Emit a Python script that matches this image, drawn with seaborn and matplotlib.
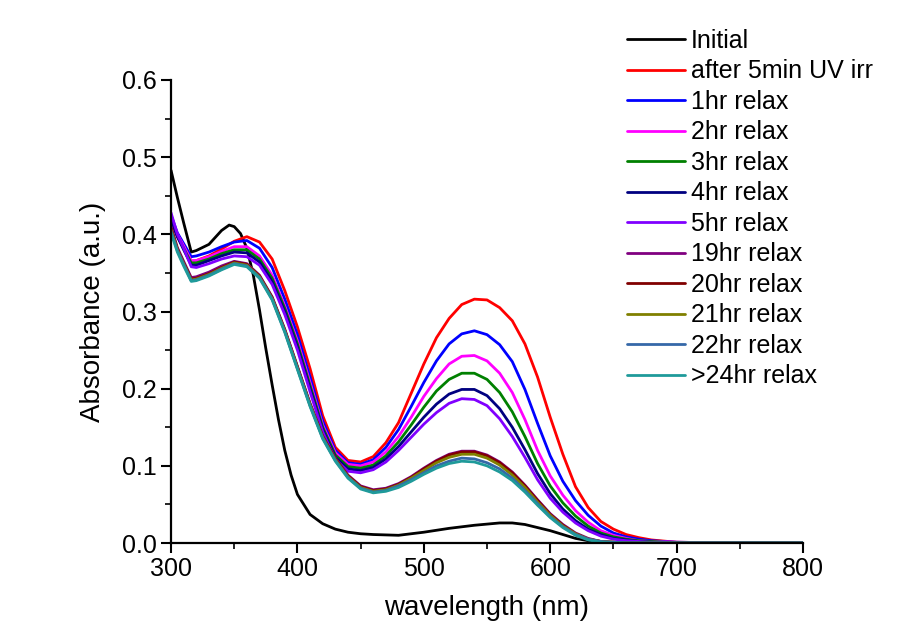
import seaborn as sns
import matplotlib.pyplot as plt
from matplotlib.ticker import MultipleLocator

# wavelength grids (nm)
wl_initial = [300, 305, 310, 316, 320, 330, 340, 346, 350, 355, 360, 365, 370, 375, 380, 385, 390, 395, 400, 410,
              420, 430, 440, 450, 460, 480, 500, 520, 540, 560, 570, 580, 590, 600, 610, 620, 630, 640, 660, 700,
              750, 800]
wavelength = [300, 305, 310, 316, 320, 330, 340, 350, 360, 370, 380, 390, 400, 410, 420, 430, 440, 450,
              460, 470, 480, 490, 500, 510, 520, 530, 540, 550, 560, 570, 580, 590, 600, 610, 620, 630, 640, 650,
              660, 670, 680, 700, 750, 800]

# absorbance
initial = [0.483, 0.448, 0.415, 0.377, 0.379, 0.387, 0.405, 0.412, 0.410, 0.401, 0.382, 0.348, 0.302, 0.252,
           0.205, 0.160, 0.120, 0.088, 0.063, 0.037, 0.025, 0.018, 0.014, 0.012, 0.011, 0.010, 0.014, 0.019,
           0.023, 0.026, 0.026, 0.024, 0.020, 0.016, 0.011, 0.006, 0.003, 0.001, 0.0, 0.0, 0.0, 0.0]
uv_5min = [0.420, 0.397, 0.383, 0.365, 0.366, 0.372, 0.381, 0.391, 0.397, 0.390, 0.368, 0.327, 0.280, 0.226,
           0.165, 0.124, 0.107, 0.105, 0.112, 0.130, 0.156, 0.194, 0.232, 0.266, 0.291, 0.309, 0.316, 0.315,
           0.305, 0.288, 0.258, 0.215, 0.163, 0.115, 0.073, 0.046, 0.028, 0.018, 0.011, 0.007, 0.004, 0.001,
           0.0, 0.0]
relax_1h = [0.425, 0.402, 0.388, 0.371, 0.372, 0.377, 0.384, 0.390, 0.392, 0.382, 0.357, 0.316, 0.270, 0.215,
            0.158, 0.120, 0.104, 0.102, 0.108, 0.124, 0.147, 0.177, 0.208, 0.236, 0.258, 0.271, 0.275, 0.270,
            0.257, 0.235, 0.199, 0.155, 0.113, 0.080, 0.055, 0.036, 0.022, 0.013, 0.008, 0.005, 0.003, 0.001,
            0.0, 0.0]
relax_2h = [0.422, 0.400, 0.385, 0.366, 0.366, 0.371, 0.378, 0.384, 0.384, 0.372, 0.347, 0.307, 0.262, 0.208,
            0.153, 0.117, 0.102, 0.100, 0.105, 0.118, 0.138, 0.163, 0.190, 0.213, 0.232, 0.242, 0.243, 0.236,
            0.220, 0.195, 0.160, 0.120, 0.087, 0.062, 0.042, 0.027, 0.016, 0.010, 0.006, 0.003, 0.002, 0.001,
            0.0, 0.0]
relax_3h = [0.420, 0.398, 0.382, 0.363, 0.363, 0.368, 0.375, 0.380, 0.380, 0.368, 0.343, 0.304, 0.258, 0.204,
            0.150, 0.114, 0.099, 0.097, 0.101, 0.113, 0.131, 0.153, 0.176, 0.197, 0.212, 0.220, 0.220, 0.212,
            0.195, 0.170, 0.138, 0.103, 0.074, 0.052, 0.035, 0.022, 0.013, 0.008, 0.005, 0.003, 0.002, 0.0,
            0.0, 0.0]
relax_4h = [0.418, 0.397, 0.380, 0.360, 0.360, 0.366, 0.372, 0.377, 0.376, 0.364, 0.339, 0.300, 0.254, 0.200,
            0.147, 0.111, 0.096, 0.094, 0.098, 0.109, 0.125, 0.144, 0.163, 0.180, 0.193, 0.199, 0.199, 0.191,
            0.174, 0.150, 0.121, 0.090, 0.064, 0.044, 0.029, 0.018, 0.011, 0.006, 0.004, 0.002, 0.001, 0.0,
            0.0, 0.0]
relax_5h = [0.428, 0.400, 0.382, 0.358, 0.357, 0.362, 0.368, 0.372, 0.371, 0.360, 0.335, 0.296, 0.250, 0.196,
            0.144, 0.108, 0.093, 0.091, 0.095, 0.105, 0.120, 0.137, 0.154, 0.169, 0.181, 0.187, 0.186, 0.178,
            0.161, 0.138, 0.111, 0.082, 0.058, 0.040, 0.026, 0.016, 0.009, 0.005, 0.003, 0.002, 0.001, 0.0,
            0.0, 0.0]
relax_19h = [0.410, 0.383, 0.365, 0.344, 0.345, 0.351, 0.359, 0.365, 0.362, 0.347, 0.319, 0.277, 0.229, 0.181,
             0.139, 0.110, 0.088, 0.074, 0.069, 0.071, 0.077, 0.086, 0.097, 0.107, 0.115, 0.119, 0.119, 0.114,
             0.105, 0.092, 0.075, 0.056, 0.038, 0.024, 0.013, 0.006, 0.002, 0.001, 0.0, 0.0, 0.0, 0.0,
             0.0, 0.0]
relax_20h = [0.408, 0.381, 0.363, 0.342, 0.343, 0.349, 0.357, 0.364, 0.361, 0.346, 0.318, 0.276, 0.228, 0.180,
             0.138, 0.109, 0.087, 0.073, 0.068, 0.070, 0.076, 0.085, 0.096, 0.106, 0.114, 0.118, 0.118, 0.113,
             0.104, 0.091, 0.074, 0.055, 0.037, 0.023, 0.012, 0.005, 0.002, 0.001, 0.0, 0.0, 0.0, 0.0,
             0.0, 0.0]
relax_21h = [0.406, 0.380, 0.362, 0.341, 0.342, 0.348, 0.356, 0.363, 0.360, 0.345, 0.317, 0.275, 0.227, 0.179,
             0.137, 0.108, 0.086, 0.072, 0.067, 0.069, 0.075, 0.084, 0.094, 0.104, 0.111, 0.115, 0.115, 0.110,
             0.101, 0.088, 0.072, 0.053, 0.036, 0.022, 0.012, 0.005, 0.002, 0.001, 0.0, 0.0, 0.0, 0.0,
             0.0, 0.0]
relax_22h = [0.404, 0.379, 0.361, 0.340, 0.341, 0.347, 0.355, 0.362, 0.359, 0.344, 0.316, 0.274, 0.226, 0.178,
             0.136, 0.107, 0.085, 0.071, 0.066, 0.068, 0.074, 0.082, 0.091, 0.100, 0.106, 0.110, 0.109, 0.104,
             0.096, 0.084, 0.068, 0.051, 0.034, 0.021, 0.011, 0.005, 0.002, 0.001, 0.0, 0.0, 0.0, 0.0,
             0.0, 0.0]
relax_24h = [0.402, 0.377, 0.359, 0.339, 0.340, 0.346, 0.354, 0.361, 0.358, 0.343, 0.315, 0.273, 0.225, 0.177,
             0.135, 0.106, 0.084, 0.070, 0.065, 0.067, 0.072, 0.080, 0.089, 0.097, 0.103, 0.106, 0.105, 0.100,
             0.092, 0.081, 0.066, 0.049, 0.033, 0.020, 0.010, 0.004, 0.001, 0.0, 0.0, 0.0, 0.0, 0.0,
             0.0, 0.0]

labels = ["Initial", "after 5min UV irr", "1hr relax", "2hr relax", "3hr relax", "4hr relax", "5hr relax",
          "19hr relax", "20hr relax", "21hr relax", "22hr relax", ">24hr relax"]
series = [initial, uv_5min, relax_1h, relax_2h, relax_3h, relax_4h, relax_5h,
          relax_19h, relax_20h, relax_21h, relax_22h, relax_24h]
colors = ["#000000", "#ff0000", "#0000ff", "#ff00ff", "#008000", "#000080", "#8000ff",
          "#800080", "#800000", "#808000", "#3568a8", "#1f9a9a"]

sns.set_style("ticks", {"axes.edgecolor": "black", "xtick.color": "black", "ytick.color": "black",
                        "text.color": "black", "axes.labelcolor": "black"})
plt.rcParams["font.family"] = ["Liberation Sans", "DejaVu Sans"]

fig = plt.figure(figsize=(9.17, 6.43), dpi=100)
ax = fig.add_axes([0.1865, 0.1555, 0.6892, 0.7201])

for name, vals, color in zip(labels, series, colors):
    x = wl_initial if name == "Initial" else wavelength
    sns.lineplot(x=x, y=vals, color=color, linewidth=2, label=name, ax=ax, estimator=None, sort=False)

ax.set_xlim(300, 800)
ax.set_ylim(0, 0.6)
ax.xaxis.set_major_locator(MultipleLocator(100))
ax.xaxis.set_minor_locator(MultipleLocator(50))
ax.yaxis.set_major_locator(MultipleLocator(0.1))
ax.yaxis.set_minor_locator(MultipleLocator(0.05))
ax.tick_params(which="major", direction="out", length=7, width=1.5, labelsize=18, pad=3)
ax.tick_params(which="minor", direction="out", length=4, width=1.2)
sns.despine(ax=ax)
for s in ["left", "bottom"]:
    ax.spines[s].set_linewidth(1.6)

ax.set_xlabel("wavelength (nm)", fontsize=20, labelpad=10)
ax.set_ylabel("Absorbance (a.u.)", fontsize=20, labelpad=12)

ax.get_legend().remove()
handles, lbls = ax.get_legend_handles_labels()
fig.legend(handles, lbls, loc="upper left", bbox_to_anchor=(0.684, 0.955), frameon=False, fontsize=18,
           handlelength=2.3, handletextpad=0.25, labelspacing=0.26, borderpad=0, borderaxespad=0)

plt.savefig("out.png", dpi=100)
